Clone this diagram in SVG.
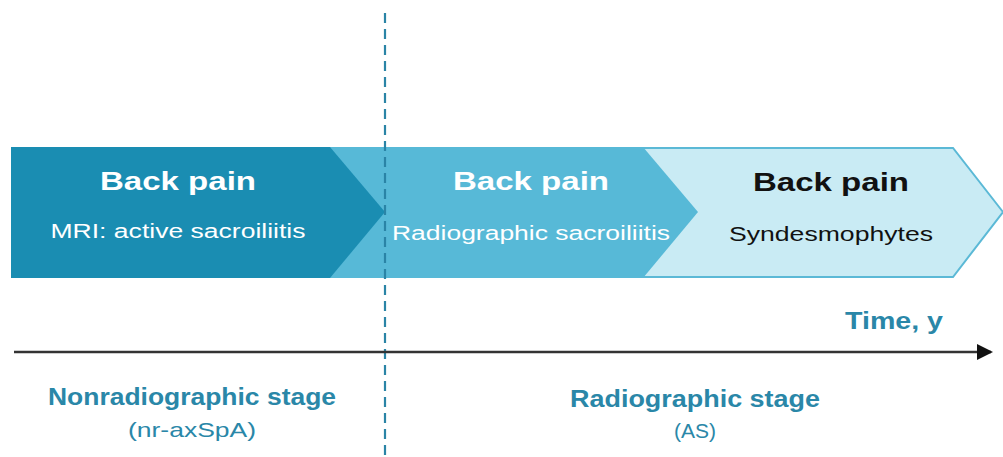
<svg xmlns="http://www.w3.org/2000/svg" width="1003" height="457" viewBox="0 0 1003 457">
<defs>
<style>
text{font-family:"Liberation Sans",Arial,sans-serif;text-anchor:middle}
.h{font-weight:bold;font-size:26px}
.s{font-size:20px}
.w{fill:#ffffff}
.k{fill:#111111}
.t{fill:#2a87a8}
.lb{font-weight:bold;font-size:23px}
.lr{font-size:21px}
</style>
<marker id="arr" markerWidth="16" markerHeight="16" refX="14" refY="8" orient="auto" markerUnits="userSpaceOnUse">
<path d="M0,0 L16,8 L0,16 Z" fill="#111111"/>
</marker>
</defs>
<rect width="1003" height="457" fill="#ffffff"/>
<g id="stage3">
<path d="M300,148 L953,148 L1003,212 L953,277 L300,277 Z" fill="#c9ebf4" stroke="#5bb9d6" stroke-width="2"/>
<text class="h k" x="831" y="191" textLength="156" lengthAdjust="spacingAndGlyphs">Back  pain</text>
<text class="s k" x="831" y="241" textLength="204" lengthAdjust="spacingAndGlyphs">Syndesmophytes</text>
</g>
<g id="stage2">
<path d="M11,147 L643,147 L698,212 L643,278 L11,278 Z" fill="#57b9d7"/>
<text class="h w" x="531" y="190" textLength="156" lengthAdjust="spacingAndGlyphs">Back  pain</text>
<text class="s w" x="531" y="240" textLength="278" lengthAdjust="spacingAndGlyphs">Radiographic sacroiliitis</text>
</g>
<g id="stage1">
<path d="M11,147 L330,147 L385,212 L330,278 L11,278 Z" fill="#1a8db2"/>
<text class="h w" x="178" y="190" textLength="156" lengthAdjust="spacingAndGlyphs">Back  pain</text>
<text class="s w" x="178" y="238" textLength="255" lengthAdjust="spacingAndGlyphs">MRI: active sacroiliitis</text>
</g>
<g id="connectors">
<line x1="385" y1="13" x2="385" y2="457" stroke="#2a84a6" stroke-width="2.2" stroke-dasharray="10,6"/>
<line x1="14" y1="352" x2="991" y2="352" stroke="#333333" stroke-width="2.5" marker-end="url(#arr)"/>
</g>
<g id="labels">
<text class="lb t" x="894" y="329" textLength="98" lengthAdjust="spacingAndGlyphs">Time,  y</text>
<text class="lb t" x="192" y="405" textLength="288" lengthAdjust="spacingAndGlyphs">Nonradiographic stage</text>
<text class="lr t" x="192" y="437" textLength="128" lengthAdjust="spacingAndGlyphs">(nr-axSpA)</text>
<text class="lb t" x="695" y="407" textLength="250" lengthAdjust="spacingAndGlyphs">Radiographic  stage</text>
<text class="lr t" x="695" y="438" textLength="42" lengthAdjust="spacingAndGlyphs">(AS)</text>
</g>
</svg>
